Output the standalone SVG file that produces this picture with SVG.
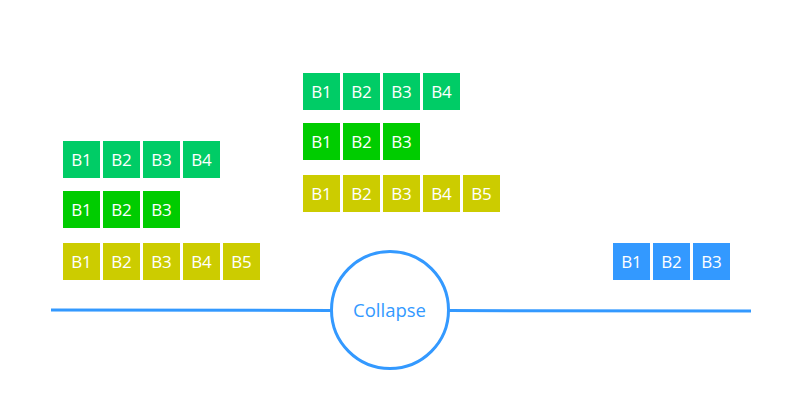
<svg xmlns="http://www.w3.org/2000/svg" width="803" height="403" viewBox="0 0 803 403">
<style>
.g1{fill:#00CC66}
.g2{fill:#00CC00}
.y{fill:#CCCC00}
.bl{fill:#3399FF}
.t{font-family:"Open Sans","Noto Sans","Liberation Sans",sans-serif;font-size:17px;fill:#ffffff;text-anchor:middle}
.c{font-family:"Open Sans","Noto Sans","Liberation Sans",sans-serif;font-size:18.5px;fill:#3399FF;text-anchor:middle}
.ln{stroke:#3399FF;stroke-width:3;fill:none}
</style>
<rect width="803" height="403" fill="#ffffff"/>
<g id="connectors">
<line class="ln" x1="51" y1="310" x2="331" y2="310.4"/>
<line class="ln" x1="449" y1="310.6" x2="751" y2="311"/>
</g>
<g id="collapse">
<circle cx="390" cy="310" r="58.5" fill="#ffffff" stroke="#3399FF" stroke-width="3"/>
<text class="c" x="389.5" y="316.5">Collapse</text>
</g>
<g id="left-row1">
<rect class="g1" x="63" y="141" width="37" height="37"/><text class="t" x="81.5" y="165.5">B1</text>
<rect class="g1" x="103" y="141" width="37" height="37"/><text class="t" x="121.5" y="165.5">B2</text>
<rect class="g1" x="143" y="141" width="37" height="37"/><text class="t" x="161.5" y="165.5">B3</text>
<rect class="g1" x="183" y="141" width="37" height="37"/><text class="t" x="201.5" y="165.5">B4</text>
</g>
<g id="left-row2">
<rect class="g2" x="63" y="191" width="37" height="37"/><text class="t" x="81.5" y="215.5">B1</text>
<rect class="g2" x="103" y="191" width="37" height="37"/><text class="t" x="121.5" y="215.5">B2</text>
<rect class="g2" x="143" y="191" width="37" height="37"/><text class="t" x="161.5" y="215.5">B3</text>
</g>
<g id="left-row3">
<rect class="y" x="63" y="243" width="37" height="37"/><text class="t" x="81.5" y="267.5">B1</text>
<rect class="y" x="103" y="243" width="37" height="37"/><text class="t" x="121.5" y="267.5">B2</text>
<rect class="y" x="143" y="243" width="37" height="37"/><text class="t" x="161.5" y="267.5">B3</text>
<rect class="y" x="183" y="243" width="37" height="37"/><text class="t" x="201.5" y="267.5">B4</text>
<rect class="y" x="223" y="243" width="37" height="37"/><text class="t" x="241.5" y="267.5">B5</text>
</g>
<g id="mid-row1">
<rect class="g1" x="303" y="73" width="37" height="37"/><text class="t" x="321.5" y="97.5">B1</text>
<rect class="g1" x="343" y="73" width="37" height="37"/><text class="t" x="361.5" y="97.5">B2</text>
<rect class="g1" x="383" y="73" width="37" height="37"/><text class="t" x="401.5" y="97.5">B3</text>
<rect class="g1" x="423" y="73" width="37" height="37"/><text class="t" x="441.5" y="97.5">B4</text>
</g>
<g id="mid-row2">
<rect class="g2" x="303" y="123" width="37" height="37"/><text class="t" x="321.5" y="147.5">B1</text>
<rect class="g2" x="343" y="123" width="37" height="37"/><text class="t" x="361.5" y="147.5">B2</text>
<rect class="g2" x="383" y="123" width="37" height="37"/><text class="t" x="401.5" y="147.5">B3</text>
</g>
<g id="mid-row3">
<rect class="y" x="303" y="175" width="37" height="37"/><text class="t" x="321.5" y="199.5">B1</text>
<rect class="y" x="343" y="175" width="37" height="37"/><text class="t" x="361.5" y="199.5">B2</text>
<rect class="y" x="383" y="175" width="37" height="37"/><text class="t" x="401.5" y="199.5">B3</text>
<rect class="y" x="423" y="175" width="37" height="37"/><text class="t" x="441.5" y="199.5">B4</text>
<rect class="y" x="463" y="175" width="37" height="37"/><text class="t" x="481.5" y="199.5">B5</text>
</g>
<g id="right-row">
<rect class="bl" x="613" y="243" width="37" height="37"/><text class="t" x="631.5" y="267.5">B1</text>
<rect class="bl" x="653" y="243" width="37" height="37"/><text class="t" x="671.5" y="267.5">B2</text>
<rect class="bl" x="693" y="243" width="37" height="37"/><text class="t" x="711.5" y="267.5">B3</text>
</g>
</svg>
